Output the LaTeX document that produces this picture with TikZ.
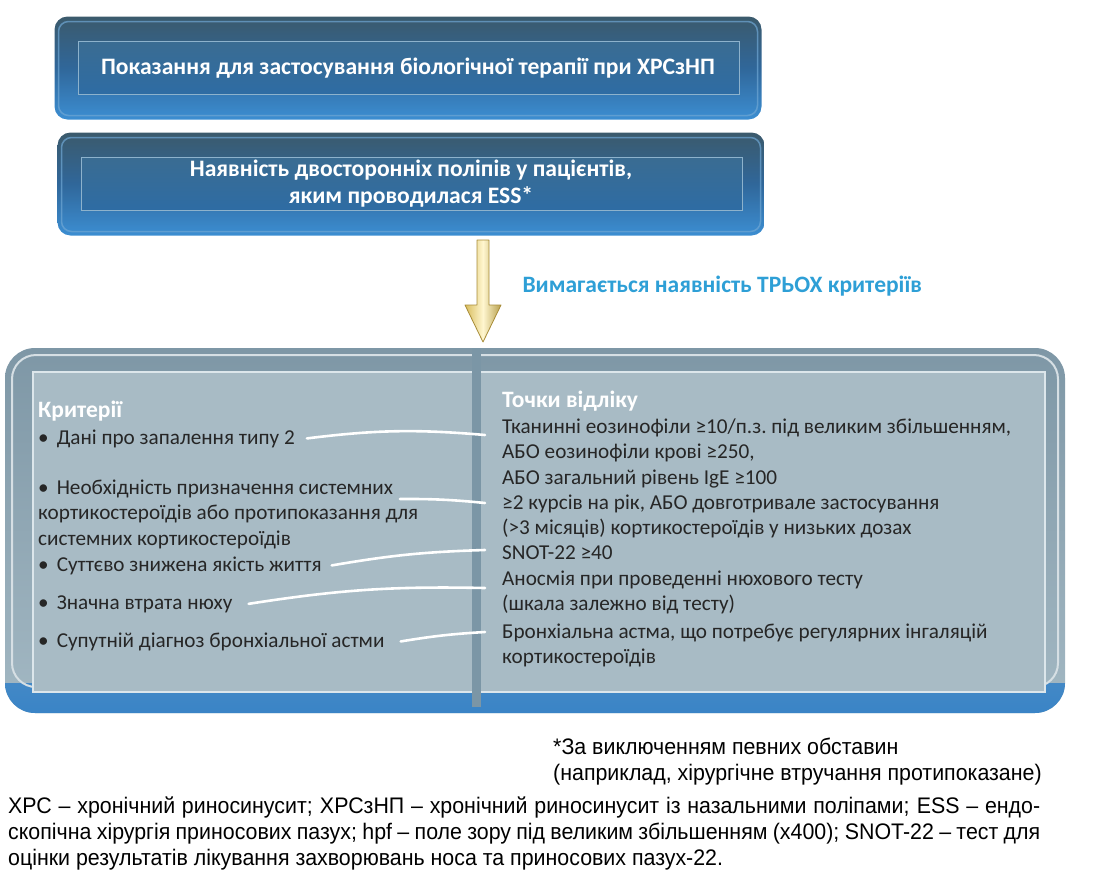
\documentclass[tikz,border=0pt]{standalone}
\usepackage{fontspec}
\setmainfont{Carlito}
\newfontfamily\notefont{Liberation Sans}[FakeStretch=0.95]
\usetikzlibrary{positioning}

\definecolor{rimtop}{HTML}{3B5A6C}
\definecolor{rimmid}{HTML}{30679A}
\definecolor{rimbot}{HTML}{3C8ED2}
\definecolor{rimlight}{HTML}{6FA7D4}
\definecolor{frametop}{HTML}{3A6C92}
\definecolor{framebot}{HTML}{2E6CA4}
\definecolor{frameline}{HTML}{8DB2CC}
\definecolor{paneltop}{HTML}{7E97A6}
\definecolor{panelbot}{HTML}{A3B8C3}
\definecolor{panelfill}{HTML}{A8BBC5}
\definecolor{panelline}{HTML}{DCE6EB}
\definecolor{divider}{HTML}{7B96A6}
\definecolor{rimblue}{HTML}{3A84C6}
\definecolor{asktext}{HTML}{2E9FD6}
\definecolor{bodytext}{HTML}{262626}
\definecolor{arrowlight}{HTML}{FFF6CF}
\definecolor{arrowdark}{HTML}{D8BC5C}
\definecolor{arrowedge}{HTML}{A88C38}

\newcommand{\bul}{\textbullet\hskip 8pt}

\tikzset{
  bluebox/.style={rounded corners=13pt, minimum width=707pt, minimum height=103pt,
    top color=rimtop, bottom color=rimbot, middle color=rimmid,
    text=white, align=center, font=\bfseries\fontsize{23.6}{27}\selectfont,
    path picture={
      \draw[rimlight, line width=1.5pt, rounded corners=10pt, opacity=0.7]
        ([shift={(4,5)}]path picture bounding box.north west) rectangle
        ([shift={(-4,-4)}]path picture bounding box.south east);
      \shade[sharp corners, top color=frametop, bottom color=framebot, draw=frameline, line width=1.2pt]
        ([shift={(24,25)}]path picture bounding box.north west) rectangle
        ([shift={(-22,-25)}]path picture bounding box.south east);
    }},
  greypanel/.style={rounded corners=30pt, minimum width=1060pt, minimum height=365pt,
    top color=paneltop, bottom color=panelbot,
    path picture={
      \shade[sharp corners, top color=panelbot, bottom color=rimblue]
        ([shift={(0,-30)}]path picture bounding box.south west) rectangle
        (path picture bounding box.south east);
      \draw[white!55!panelbot, line width=2pt, rounded corners=24pt]
        ([shift={(7,7)}]path picture bounding box.north west) rectangle
        ([shift={(-7,-26)}]path picture bounding box.south east);
      \fill[sharp corners, panelfill, draw=panelline, line width=1.5pt]
        ([shift={(28,24)}]path picture bounding box.north west) rectangle
        ([shift={(-20,-21)}]path picture bounding box.south east);
      \fill[sharp corners, divider]
        ([shift={(467,0)}]path picture bounding box.north west) rectangle
        ([shift={(476,-6)}]path picture bounding box.south west);
    }},
  headtext/.style={inner sep=0pt, text=white, font=\bfseries\fontsize{23.5}{25.5}\selectfont},
  bodynode/.style={inner sep=0pt, text=bodytext, font=\frenchspacing\fontsize{21.2}{25.5}\selectfont},
  notetext/.style={inner sep=0pt, text=black, font=\notefont\fontsize{22.5}{26}\selectfont},
  link/.style={white, line width=2.6pt, line cap=round},
}

\begin{document}
\begin{tikzpicture}[x=1pt, y=-1pt]
  \useasboundingbox (0,0) rectangle (1105,881);

  % upper boxes
  \node[bluebox] (indic) at (408,68) {Показання для застосування біологічної терапії при ХРСзНП};
  \node[bluebox] (polyps) at (411,184) {Наявність двосторонніх поліпів у пацієнтів,\\яким проводилася ESS*};

  % block arrow
  \coordinate (arrtop) at (483,240);
  \coordinate (arrtip) at (483,342);
  \shade[left color=arrowdark, right color=arrowdark!85!black, middle color=arrowlight,
         draw=arrowedge, line width=0.8pt, line join=round]
    ([shift={(-6,0)}]arrtop) -- ([shift={(6,0)}]arrtop) -- ([shift={(6,-37)}]arrtip)
    -- ([shift={(18,-37)}]arrtip) -- (arrtip) -- ([shift={(-18,-37)}]arrtip)
    -- ([shift={(-6,-37)}]arrtip) -- cycle;
  \node[anchor=west, text=asktext, font=\bfseries\fontsize{23.5}{25}\selectfont] (three) at (519,286)
    {Вимагається наявність ТРЬОХ критеріїв};

  % criteria panel
  \node[greypanel] (panel) at (535,530.5) {};

  \node[headtext, anchor=base west] (crithead) at (38,417) {Критерії};
  \node[bodynode, anchor=base west] (crit1) at (38,444) {\bul Дані про запалення типу 2};
  \node[bodynode, anchor=base west, text width=430pt, align=flush left] (crit2) at (38,494)
    {\bul Необхідність призначення системних\\кортикостероїдів або протипоказання для\\системних кортикостероїдів};
  \node[bodynode, anchor=base west] (crit3) at (38,571) {\bul Суттєво знижена якість життя};
  \node[bodynode, anchor=base west] (crit4) at (38,609) {\bul Значна втрата нюху};
  \node[bodynode, anchor=base west] (crit5) at (38,647) {\bul Супутній діагноз бронхіальної астми};

  \node[headtext, anchor=base west] (refhead) at (502,407) {Точки відліку};
  \node[bodynode, anchor=base west, text width=540pt, align=flush left] (ref1) at (502,433)
    {Тканинні еозинофіли ≥10/п.з. під великим збільшенням,\\АБО еозинофіли крові ≥250,\\АБО загальний рівень IgE ≥100};
  \node[bodynode, anchor=base west, text width=540pt, align=flush left] (ref2) at (502,509)
    {≥2 курсів на рік, АБО довготривале застосування\\(>3 місяців) кортикостероїдів у низьких дозах};
  \node[bodynode, anchor=base west] (ref3) at (502,559) {SNOT-22 ≥40};
  \node[bodynode, anchor=base west, text width=540pt, align=flush left] (ref4) at (502,585)
    {Аносмія при проведенні нюхового тесту\\(шкала залежно від тесту)};
  \node[bodynode, anchor=base west, text width=540pt, align=flush left] (ref5) at (502,638)
    {Бронхіальна астма, що потребує регулярних інгаляцій\\кортикостероїдів};

  \draw[link] ([xshift=12pt]crit1.east) to[bend left=6] ([shift={(-17,2)}]ref1.base west);
  \draw[link] ([shift={(362,5)}]crit2.base west) to[bend left=3] ([shift={(-17,-6)}]ref2.base west);
  \draw[link] ([xshift=10pt]crit3.east) to[bend left=4] ([shift={(-17,-9)}]ref3.base west);
  \draw[link] ([xshift=16pt]crit4.east) to[bend left=5] ([shift={(-17,3)}]ref4.base west);
  \draw[link] ([xshift=16pt]crit5.east) to[bend left=3] ([shift={(-17,-6)}]ref5.base west);

  % notes
  \node[notetext, anchor=base west, text width=540pt, align=flush left] (except) at (553,754)
    {*За виключенням певних обставин\\(наприклад, хірургічне втручання протипоказане)};
  \node[notetext, anchor=base west, text width=1032pt, align=justify] (abbr) at (8,813)
    {\hyphenpenalty=10000 ХРС – хронічний риносинусит; ХРСзНП – хронічний риносинусит із назальними поліпами; ESS – ендо-\linebreak скопічна хірургія приносових пазух; hpf – поле зору під великим збільшенням (х400); SNOT-22 – тест для\linebreak оцінки результатів лікування захворювань носа та приносових пазух-22.};
\end{tikzpicture}
\end{document}
